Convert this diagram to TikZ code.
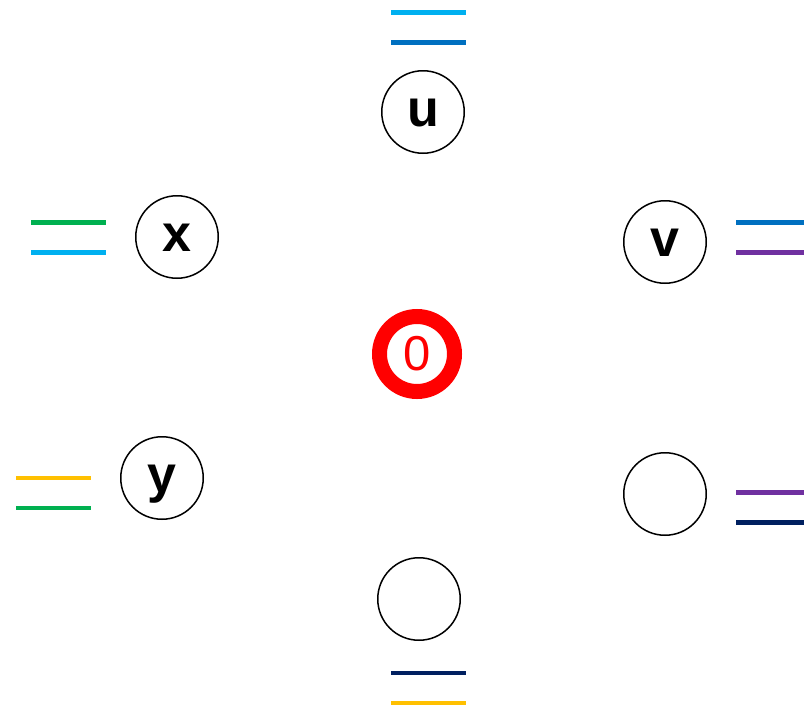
\documentclass[tikz,border=0pt]{standalone}
\usepackage{fontspec}
\setmainfont{Liberation Sans}
\definecolor{lblue}{HTML}{00B0F0}
\definecolor{mblue}{HTML}{0070C0}
\definecolor{mgreen}{HTML}{00B050}
\definecolor{mpurple}{HTML}{7030A0}
\definecolor{mnavy}{HTML}{002060}
\definecolor{myellow}{HTML}{FFC000}
\tikzset{
  vert/.style={circle, draw=black, line width=1.5pt, fill=white, minimum size=82.5pt, inner sep=0pt,
    font=\fontsize{52}{52}\selectfont\bfseries, text height=28pt, text depth=0pt},
  zero/.style={circle, draw=red, line width=15pt, fill=white, minimum size=75pt, inner sep=0pt,
    font=\fontsize{49}{49}\selectfont, text=red},
  bar/.style={line width=4.5pt, line cap=butt}
}
\begin{document}
\begin{tikzpicture}[x=1pt,y=-1pt]
\useasboundingbox[fill=white] (0,0) rectangle (804,707);
% nodes
\node[vert] (u) at (423,112) {u};
\node[vert] (x) at (177,237) {x};
\node[vert] (v) at (665,242) {v};
\node[vert] (y) at (162,478) {y};
\node[vert] (w) at (665,494) {};
\node[vert] (z) at (419,599) {};
\node[zero] (c) at (417,354) {0};
% bars
\draw[bar, lblue] (391,12.5) -- (466,12.5);
\draw[bar, mblue] (391,42.5) -- (466,42.5);
\draw[bar, mgreen] (31,222.5) -- (106,222.5);
\draw[bar, lblue] (31,252.5) -- (106,252.5);
\draw[bar, mblue] (736,222.5) -- (804,222.5);
\draw[bar, mpurple] (736,252.5) -- (804,252.5);
\draw[bar, myellow] (16,478) -- (91,478);
\draw[bar, mgreen] (16,508) -- (91,508);
\draw[bar, mpurple] (736,492.5) -- (804,492.5);
\draw[bar, mnavy] (736,522.5) -- (804,522.5);
\draw[bar, mnavy] (391,673) -- (466,673);
\draw[bar, myellow] (391,703) -- (466,703);
\end{tikzpicture}
\end{document}
